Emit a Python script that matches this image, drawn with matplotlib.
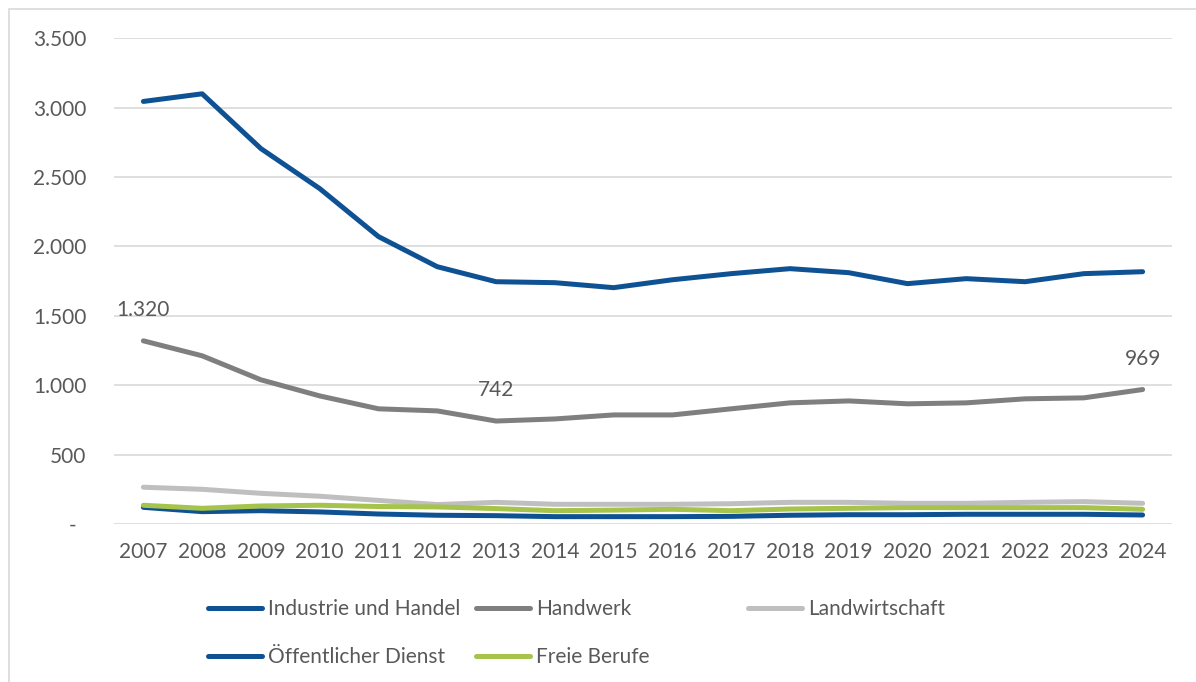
import matplotlib
matplotlib.use("Agg")
import matplotlib.pyplot as plt
from matplotlib.patches import Rectangle
from matplotlib.lines import Line2D
from matplotlib.transforms import ScaledTranslation

plt.rcParams['font.family'] = ['Lato', 'DejaVu Sans']

years = list(range(2007, 2025))
industrie = [3045, 3100, 2705, 2417, 2071, 1854, 1746, 1739, 1703, 1760, 1804, 1840, 1811, 1732, 1768, 1746, 1804, 1818]
handwerk = [1320, 1212, 1039, 923, 830, 815, 742, 757, 786, 786, 830, 873, 887, 866, 873, 902, 909, 969]
landwirtschaft = [265, 250, 221, 200, 170, 140, 156, 142, 142, 142, 146, 156, 156, 149, 149, 156, 161, 149]
oeffentlich = [120, 89, 96, 87, 72, 63, 60, 53, 53, 53, 55, 63, 67, 67, 70, 70, 70, 65]
freie = [135, 113, 130, 135, 126, 123, 111, 96, 100, 106, 96, 108, 113, 118, 118, 118, 118, 106]

y_ticks = [0, 500, 1000, 1500, 2000, 2500, 3000, 3500]
y_tick_labels = ["-", "500", "1.000", "1.500", "2.000", "2.500", "3.000", "3.500"]

labels = ["Industrie und Handel", "Handwerk", "Landwirtschaft", "Öffentlicher Dienst", "Freie Berufe"]
series = [industrie, handwerk, landwirtschaft, oeffentlich, freie]
colors = ["#0F5294", "#7F7F7F", "#BFBFBF", "#0F5294", "#A6C34B"]

annotations = [(2007, 1320, "1.320"), (2013, 742, "742"), (2024, 969, "969")]

W, H = 1196, 682
fig = plt.figure(figsize=(W / 100, H / 100), dpi=100)
ax = fig.add_axes([114 / W, 1 - 524 / H, (1172 - 114) / W, (524 - 38.3) / H])

text_color = "#595959"
grid_color = "#D9D9D9"

ax.set_ylim(0, 3500)
ax.set_xlim(2006.5, 2024.5)
ax.set_yticks(y_ticks)
ax.set_yticklabels(y_tick_labels)
ax.set_xticks(years)
ax.set_xticklabels([str(y) for y in years])
ax.grid(axis='y', color=grid_color, linewidth=1.2)
ax.set_axisbelow(True)
for s in ax.spines.values():
    s.set_visible(False)
ax.tick_params(axis='both', length=0, labelsize=15, colors=text_color)
ax.tick_params(axis='y', pad=20)
ax.tick_params(axis='x', pad=13)

lbl0 = ax.get_yticklabels()[0]
lbl0.set_transform(lbl0.get_transform() + ScaledTranslation(-10 / 100, 0, fig.dpi_scale_trans))

zorders = {0: 5, 1: 4, 2: 2, 3: 3, 4: 3.5}
for i in [2, 4, 3, 1, 0]:
    ax.plot(years, series[i], color=colors[i], linewidth=3.6, solid_capstyle='round',
            solid_joinstyle='round', zorder=zorders[i])

for x, v, t in annotations:
    ax.annotate(t, (x, v), xytext=(0, 15), textcoords='offset points', ha='center', va='bottom',
                fontsize=15, color=text_color)

def handle(c):
    return Line2D([0], [0], color=c, linewidth=3.6, solid_capstyle='round')

cols = [([0, 3], 208), ([1, 4], 476), ([2], 748)]
for idxs, xpx in cols:
    fig.legend([handle(colors[i]) for i in idxs], [labels[i] for i in idxs],
               loc='upper left', bbox_to_anchor=(xpx / W, 1 - 599 / H),
               frameon=False, fontsize=15, handlelength=2.6, handletextpad=0.3,
               labelspacing=1.35, borderpad=0, borderaxespad=0, labelcolor=text_color)

fig.add_artist(Rectangle((9 / W, -0.1), 2, 1 - 9 / H + 0.1, transform=fig.transFigure,
                         fill=False, edgecolor=grid_color, linewidth=1.2))

fig.savefig("out.png", dpi=100)
